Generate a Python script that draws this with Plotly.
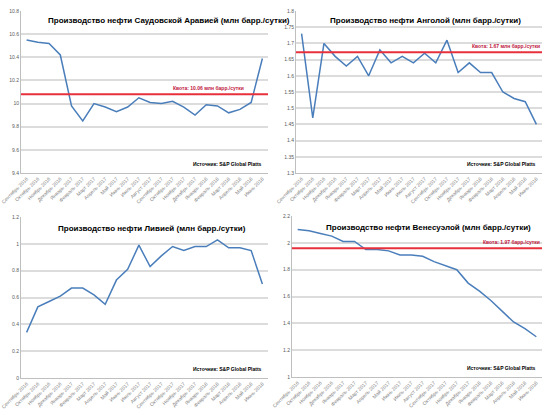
import plotly.graph_objects as go

months = ["Сентябрь 2016", "Октябрь 2016", "Ноябрь 2016", "Декабрь 2016",
          "Январь 2017", "Февраль 2017", "Март 2017", "Апрель 2017", "Май 2017",
          "Июнь 2017", "Июль 2017", "Август 2017", "Сентябрь 2017", "Октябрь 2017",
          "Ноябрь 2017", "Декабрь 2017", "Январь 2018", "Февраль 2018", "Март 2018",
          "Апрель 2018", "Май 2018", "Июнь 2018"]

saudi = [10.55, 10.53, 10.52, 10.42, 9.98, 9.85, 10.00, 9.97, 9.93, 9.97, 10.05,
         10.01, 10.00, 10.02, 9.97, 9.90, 9.99, 9.98, 9.92, 9.95, 10.01, 10.39]
angola = [1.73, 1.47, 1.70, 1.66, 1.63, 1.66, 1.60, 1.68, 1.64, 1.66, 1.64,
          1.67, 1.64, 1.71, 1.61, 1.64, 1.61, 1.61, 1.55, 1.53, 1.52, 1.45]
libya = [0.34, 0.53, 0.57, 0.61, 0.67, 0.67, 0.62, 0.55, 0.73, 0.81, 0.99,
         0.83, 0.91, 0.98, 0.95, 0.98, 0.98, 1.03, 0.97, 0.97, 0.95, 0.70]
venezuela = [2.10, 2.09, 2.07, 2.05, 2.01, 2.01, 1.95, 1.95, 1.94, 1.91, 1.91,
             1.90, 1.86, 1.83, 1.80, 1.70, 1.64, 1.57, 1.49, 1.41, 1.36, 1.30]

titles = ["Производство нефти Саудовской Аравией (млн барр./сутки)",
          "Производство нефти Анголой (млн барр./сутки)",
          "Производство нефти Ливией (млн барр./сутки)",
          "Производство нефти Венесуэлой (млн барр./сутки)"]
quotas = [10.08, 1.673, None, 1.96]
quota_labels = ["Квота: 10.06 млн барр./сутки", "Квота: 1.67 млн барр./сутки",
                None, "Квота: 1.97 барр./сутки"]
y_ranges = [(9.4, 10.8), (1.3, 1.8), (0.0, 1.2), (1.0, 2.2)]
y_dticks = [0.2, 0.05, 0.2, 0.2]
source = "Источник: S&P Global Platts"

series = [saudi, angola, libya, venezuela]

W, H = 550, 412
# plot areas in pixels: (x0, x1, ytop, ybottom)
areas = [(21, 268, 11, 173), (296, 542, 11, 173),
         (21, 268, 217, 378), (292, 542, 216, 377)]
title_x = [0.60, 0.525, 0.53, 0.545]
title_y = [0.94, 0.94, 0.93, 0.93]
quota_x = [0.91, 1.0, None, 1.0]

fig = go.Figure()
FONT = "Liberation Sans"
for i, (vals, (x0, x1, yt, yb)) in enumerate(zip(series, areas)):
    n = "" if i == 0 else str(i + 1)
    xa, ya = "x" + n, "y" + n
    fig.add_trace(go.Scatter(x=months, y=vals, mode="lines",
                             line=dict(color="#4a7ebb", width=1.5),
                             xaxis=xa, yaxis=ya, showlegend=False))
    fig.layout["xaxis" + n] = dict(
        domain=[x0 / W, x1 / W], anchor=ya, type="category",
        range=[-0.5, len(months) - 0.5], tickangle=-45,
        tickfont=dict(size=5, color="#7f7f7f", family=FONT),
        showgrid=False, showline=True, linecolor="#bfbfbf", linewidth=1,
        ticks="", fixedrange=True, automargin=False)
    fig.layout["yaxis" + n] = dict(
        domain=[1 - yb / H, 1 - yt / H], anchor=xa,
        range=list(y_ranges[i]), dtick=y_dticks[i], tick0=y_ranges[i][0],
        tickfont=dict(size=5, color="#595959", family=FONT),
        showgrid=True, gridcolor="#dcdcdc", gridwidth=1.5,
        showline=True, linecolor="#bfbfbf", linewidth=1,
        zeroline=False, ticks="", fixedrange=True, automargin=False)
    # title
    fig.add_annotation(text="<b>" + titles[i] + "</b>", xref=xa + " domain", yref=ya + " domain",
                       x=title_x[i], y=title_y[i], showarrow=False, xanchor="center", yanchor="middle",
                       font=dict(size=8, color="#000000", family=FONT))
    # source
    fig.add_annotation(text="<b>" + source + "</b>", xref=xa + " domain", yref=ya + " domain",
                       x=0.985, y=0.055, showarrow=False, xanchor="right", yanchor="middle",
                       font=dict(size=5, color="#000000", family=FONT))
    if quotas[i] is not None:
        fig.add_shape(type="line", xref=xa + " domain", yref=ya, x0=0, x1=1,
                      y0=quotas[i], y1=quotas[i], line=dict(color="#e8303c", width=2))
        fig.add_annotation(text="<b>" + quota_labels[i] + "</b>", xref=xa + " domain", yref=ya,
                           x=quota_x[i], y=quotas[i], showarrow=False, xanchor="right", yanchor="bottom",
                           yshift=1, font=dict(size=5, color="#c0143c", family=FONT))

fig.update_layout(width=W, height=H, margin=dict(l=0, r=0, t=0, b=0, autoexpand=False),
                  paper_bgcolor="white", plot_bgcolor="white")
fig.write_html("out.html", config={"displayModeBar": False},
               post_script="document.body.style.margin='0';")
